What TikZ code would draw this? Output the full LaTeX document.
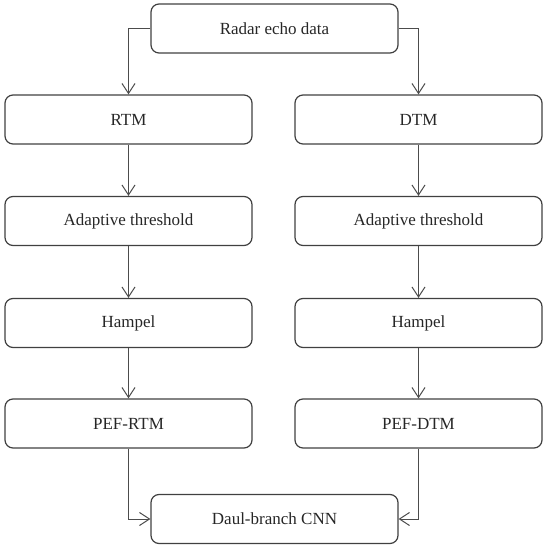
\documentclass[tikz,border=0pt]{standalone}
\usepackage{fontspec}
\setmainfont{Liberation Serif}
\usetikzlibrary{arrows.meta}
\begin{document}
\begin{tikzpicture}[x=1pt,y=-1pt,
  box/.style={draw=black!75, line width=1.2pt, rounded corners=8pt, minimum width=247pt, minimum height=49pt, inner sep=0pt, font=\fontsize{17}{20}\selectfont, text=black!85},
  conn/.style={draw=black!70, line width=1pt, -{Straight Barb[length=10pt,width=13pt,line width=1pt]}}]
\useasboundingbox (0,0) rectangle (550,549);
\node[box] (top) at (274.5,28.5) {Radar echo data};
\node[box] (rtm) at (128.5,119.5) {RTM};
\node[box] (dtm) at (418.5,119.5) {DTM};
\node[box] (at1) at (128.5,221) {Adaptive threshold};
\node[box] (at2) at (418.5,221) {Adaptive threshold};
\node[box] (h1) at (128.5,323) {Hampel};
\node[box] (h2) at (418.5,323) {Hampel};
\node[box] (p1) at (128.5,423.5) {PEF-RTM};
\node[box] (p2) at (418.5,423.5) {PEF-DTM};
\node[box] (cnn) at (274.5,519) {Daul-branch CNN};
\draw[conn] (top.west) -| (rtm.north);
\draw[conn] (top.east) -| (dtm.north);
\draw[conn] (rtm) -- (at1);
\draw[conn] (dtm) -- (at2);
\draw[conn] (at1) -- (h1);
\draw[conn] (at2) -- (h2);
\draw[conn] (h1) -- (p1);
\draw[conn] (h2) -- (p2);
\draw[conn] (p1.south) |- (cnn.west);
\draw[conn] (p2.south) |- (cnn.east);
\end{tikzpicture}
\end{document}
